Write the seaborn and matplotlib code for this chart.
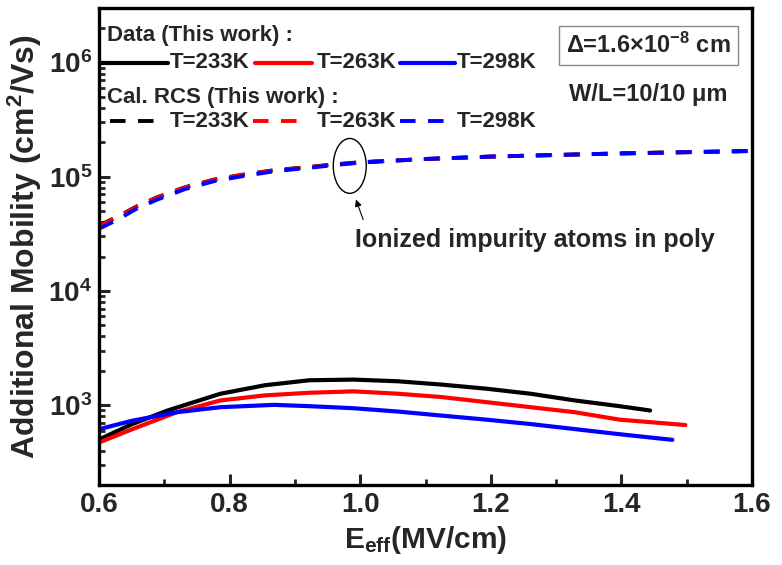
import numpy as np
import pandas as pd
import matplotlib
matplotlib.use('Agg')
import matplotlib.pyplot as plt
import seaborn as sns
from matplotlib.patches import Ellipse
from matplotlib.lines import Line2D

# ---------------- data ----------------
e_233 = [0.60, 0.65, 0.705, 0.786, 0.854, 0.922, 0.99, 1.058, 1.125, 1.193, 1.261, 1.329, 1.397, 1.444]
mu_233 = [500, 680, 898, 1259, 1494, 1652, 1674, 1618, 1513, 1394, 1259, 1099, 980, 898]

e_263 = [0.60, 0.651, 0.719, 0.786, 0.854, 0.922, 0.99, 1.058, 1.125, 1.193, 1.261, 1.329, 1.397, 1.498]
mu_263 = [471, 616, 867, 1100, 1218, 1284, 1321, 1259, 1177, 1063, 960, 867, 747, 670]

e_298 = [0.60, 0.651, 0.719, 0.786, 0.868, 0.922, 0.99, 1.058, 1.125, 1.193, 1.261, 1.329, 1.397, 1.478]
mu_298 = [616, 731, 867, 960, 1006, 980, 940, 879, 810, 747, 683, 617, 557, 497]

e_cal = [0.60, 0.628, 0.659, 0.689, 0.732, 0.778, 0.824, 0.87, 0.918, 0.958, 1.0, 1.05, 1.1, 1.2, 1.3, 1.4, 1.5, 1.6]
cal_233 = [37500, 44500, 55500, 66000, 81000, 95000, 105000, 114500, 121000, 128000, 134000, 138500, 143000, 150000, 155000, 160000, 164000, 168000]
cal_263 = [37000, 44000, 55000, 65500, 80500, 94500, 104500, 114000, 120500, 127500, 133500, 138000, 143000, 150000, 155000, 160000, 164000, 168000]
cal_298 = [35000, 42000, 53000, 63000, 78000, 92000, 102000, 112000, 119000, 126000, 133000, 138000, 143000, 150000, 155000, 160000, 164000, 168000]

temps = ['T=233K', 'T=263K', 'T=298K']
colors = ['#000000', '#ff0000', '#0000ff']
x_ticks = [0.6, 0.8, 1.0, 1.2, 1.4, 1.6]
y_ticks = [1e3, 1e4, 1e5, 1e6]
y_tick_labels = [r'$10^{3}$', r'$10^{4}$', r'$10^{5}$', r'$10^{6}$']

# ---------------- style ----------------
sns.set_theme(style='ticks')
FONT = ['Liberation Sans', 'DejaVu Sans']
plt.rcParams['font.family'] = FONT
plt.rcParams['font.weight'] = 'bold'
plt.rcParams['mathtext.fontset'] = 'custom'
plt.rcParams['mathtext.rm'] = 'Liberation Sans:bold'
plt.rcParams['mathtext.bf'] = 'Liberation Sans:bold'
plt.rcParams['mathtext.it'] = 'Liberation Sans:bold'
plt.rcParams['mathtext.default'] = 'bf'

fig = plt.figure(figsize=(7.82, 5.65), dpi=100)
ax = fig.add_axes([99 / 782, 1 - 485 / 565, 653 / 782, 477 / 565])

solid = pd.concat([
    pd.DataFrame({'E': e_233, 'mu': mu_233, 'T': temps[0]}),
    pd.DataFrame({'E': e_263, 'mu': mu_263, 'T': temps[1]}),
    pd.DataFrame({'E': e_298, 'mu': mu_298, 'T': temps[2]}),
])
cal = pd.concat([
    pd.DataFrame({'E': e_cal, 'mu': cal_233, 'T': temps[0]}),
    pd.DataFrame({'E': e_cal, 'mu': cal_263, 'T': temps[1]}),
    pd.DataFrame({'E': e_cal, 'mu': cal_298, 'T': temps[2]}),
])
pal = dict(zip(temps, colors))

sns.lineplot(data=solid, x='E', y='mu', hue='T', palette=pal, lw=3.0,
             legend=False, ax=ax, sort=False)
n_before = len(ax.lines)
sns.lineplot(data=cal, x='E', y='mu', hue='T', palette=pal, lw=2.8,
             legend=False, ax=ax, sort=False)
for ln in ax.lines[n_before:]:
    ln.set_dashes((4.0, 3.2))

ax.set_yscale('log')
ax.set_xlim(0.6, 1.6)
ax.set_ylim(200, 3.0e6)
ax.set_xticks(x_ticks)
ax.set_xticklabels([f'{v:.1f}' for v in x_ticks])
ax.set_xticks([0.7, 0.9, 1.1, 1.3, 1.5], minor=True)
ax.set_yticks(y_ticks)
ax.set_yticklabels(y_tick_labels)
ax.yaxis.set_minor_locator(matplotlib.ticker.LogLocator(base=10, subs=np.arange(2, 10)))
ax.yaxis.set_minor_formatter(matplotlib.ticker.NullFormatter())

ax.tick_params(which='major', direction='in', length=8, width=2.2, labelsize=20, pad=5,
               top=False, right=False)
ax.tick_params(which='minor', direction='in', length=4.5, width=2.0, top=False, right=False)
for lab in ax.get_xticklabels() + ax.get_yticklabels():
    lab.set_fontweight('bold')
for sp in ax.spines.values():
    sp.set_linewidth(2.4)
    sp.set_color('black')
    sp.set_visible(True)

ax.set_xlabel(r'E$_{eff}$(MV/cm)', fontsize=21.5, fontweight='bold', labelpad=4)
ax.set_ylabel(r'Additional Mobility (cm$^{2}$/Vs)', fontsize=23, fontweight='bold', labelpad=3)

# ---------------- custom legend ----------------
T = ax.transAxes
fs_leg = 16
ax.text(0.012, 0.943, 'Data (This work) :', transform=T, fontsize=fs_leg, fontweight='bold',
        ha='left', va='center')
ax.text(0.012, 0.813, 'Cal. RCS (This work) :', transform=T, fontsize=fs_leg, fontweight='bold',
        ha='left', va='center')
row2 = 0.885
row4 = 0.763
seg_solid = [(0.0015, 0.106), (0.239, 0.326), (0.461, 0.545)]
seg_dash = [(0.017, 0.096), (0.236, 0.311), (0.461, 0.534)]
txt_x = [0.109, 0.334, 0.548]
for c, (a, b), (d1, d2), tx, lab in zip(colors, seg_solid, seg_dash, txt_x, temps):
    ax.add_line(Line2D([a, b], [row2, row2], transform=T, color=c, lw=3.0, clip_on=False))
    ln = Line2D([d1, d2], [row4, row4], transform=T, color=c, lw=2.8, clip_on=False)
    ln.set_dashes((4.0, 3.2))
    ax.add_line(ln)
    ax.text(tx, row2, lab, transform=T, fontsize=fs_leg, fontweight='bold', ha='left', va='center')
    ax.text(tx, row4, lab, transform=T, fontsize=fs_leg, fontweight='bold', ha='left', va='center')

# ---------------- box and annotations ----------------
ax.text(0.841, 0.922, r'$\Delta$=1.6$\times$10$^{-8}$ cm', transform=T, fontsize=17,
        fontweight='bold', ha='center', va='center',
        bbox=dict(boxstyle='square,pad=0.3', fc='white', ec='#888888', lw=1.0))
ax.text(0.841, 0.818, 'W/L=10/10 μm', transform=T, fontsize=17, fontweight='bold',
        ha='center', va='center')

ax.add_patch(Ellipse((0.384, 0.669), 0.0505, 0.115, transform=T, fill=False,
                     ec='black', lw=1.0))
ax.annotate('', xy=(0.392, 0.604), xytext=(0.406, 0.551), xycoords=T, textcoords=T,
            arrowprops=dict(arrowstyle='-|>', color='black', lw=0.8, mutation_scale=10))
ax.text(0.392, 0.514, 'Ionized impurity atoms in poly', transform=T, fontsize=18,
        fontweight='bold', ha='left', va='center')

fig.savefig('out.png', dpi=100)
